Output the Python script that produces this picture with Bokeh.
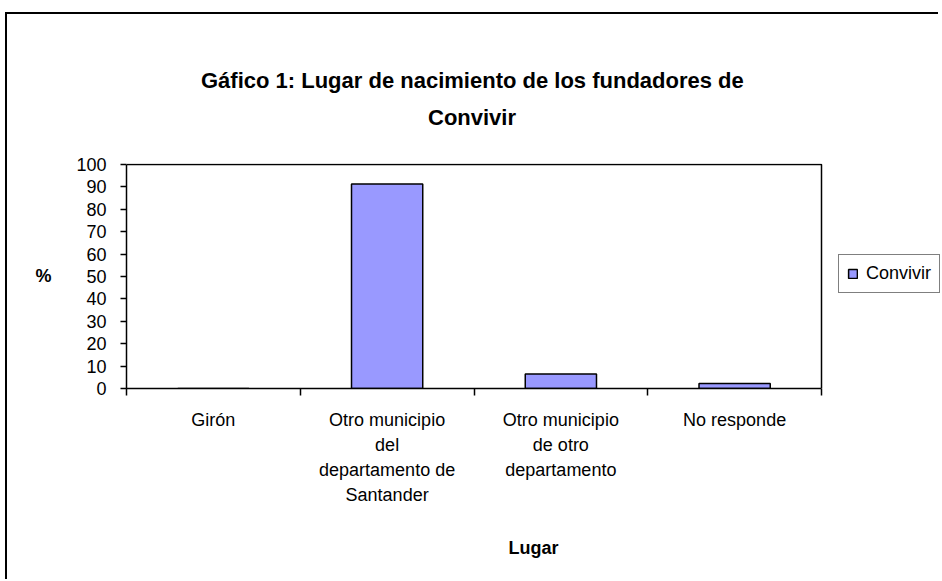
from bokeh.plotting import figure
from bokeh.models import (ColumnDataSource, Range1d, LinearAxis, FixedTicker,
                          Legend, LegendItem, Title)
from bokeh.embed import file_html
from bokeh.resources import INLINE

# ---- data ----
categories = ["Girón", "Otro municipio\ndel\ndepartamento de\nSantander",
              "Otro municipio\nde otro\ndepartamento", "No responde"]
values = [0.0, 91.3, 6.5, 2.2]
series_name = "Convivir"
y_ticks = [0, 10, 20, 30, 40, 50, 60, 70, 80, 90, 100]
title_line1 = "Gáfico 1: Lugar de nacimiento de los fundadores de"
title_line2 = "Convivir"

FONT = "Liberation Sans"
BAR = "#9999FF"

n = len(categories)
ymax = max(y_ticks)
xpos = [i + 0.5 for i in range(n)]
src = ColumnDataSource(dict(x=xpos, top=values, cat=categories))

# layout (canvas pixels)
W, H = 933, 567
FL, FB, FT = 119, 374, 149          # frame left / bottom / top
PLOT_W, PLOT_H = 695, 224           # size of the category box
x_end = n * (W - FL) / PLOT_W       # frame continues right to hold the legend
y_end = ymax * (FB - FT) / PLOT_H

p = figure(width=W, height=H, output_backend="svg", toolbar_location=None,
           title=None,
           x_range=Range1d(0, x_end), y_range=Range1d(0, y_end),
           min_border_left=FL, min_border_right=0,
           min_border_top=FT, min_border_bottom=H - FB,
           x_axis_location=None, y_axis_location=None)
p.styles = {"border-top": "2px solid black", "border-left": "2px solid black",
            "margin-top": "12px", "margin-left": "5px"}
p.grid.visible = False
p.background_fill_color = "white"
p.border_fill_color = "white"
p.outline_line_color = None

# title lines (first added is nearest the frame); a blank spacer first
p.add_layout(Title(text=" ", text_font_size="22px", standoff=2), "above")
p.add_layout(Title(text=title_line2, align="left",
                   offset=PLOT_W / 2 - 44 - 2,
                   text_font=FONT, text_font_style="bold",
                   text_font_size="22px", text_color="black",
                   standoff=10), "above")
p.add_layout(Title(text=title_line1, align="left",
                   offset=PLOT_W / 2 - 271 - 2,
                   text_font=FONT, text_font_style="bold",
                   text_font_size="22px", text_color="black",
                   standoff=9), "above")

r = p.vbar(x="x", top="top", width=0.41, bottom=0, source=src,
           fill_color=BAR, line_color="black", line_width=1.5)

# top and right edges of the plot box
p.line(x=[0, n, n], y=[ymax, ymax, 0], line_color="black", line_width=1.5)

# y axis
ya = LinearAxis(ticker=FixedTicker(ticks=y_ticks), bounds=(0, ymax))
ya.axis_label = "%"
ya.axis_label_orientation = "horizontal"
ya.axis_label_text_font = FONT
ya.axis_label_text_font_style = "bold"
ya.axis_label_text_font_size = "18px"
ya.axis_label_text_color = "black"
ya.axis_label_standoff = 22
ya.major_label_text_font = FONT
ya.major_label_text_font_size = "18px"
ya.major_label_text_color = "black"
ya.major_label_standoff = 14
ya.major_tick_out = 6
ya.major_tick_in = 0
ya.minor_tick_line_color = None
ya.axis_line_color = "black"
ya.axis_line_width = 1.5
ya.major_tick_line_width = 1.5
p.add_layout(ya, "left")

# x axis: tick marks at category boundaries
xa = LinearAxis(ticker=FixedTicker(ticks=list(range(n + 1))), bounds=(0, n))
xa.major_label_overrides = {i: "" for i in range(n + 1)}
xa.major_label_text_font_size = "1px"
xa.major_tick_out = 7
xa.major_tick_in = 0
xa.minor_tick_line_color = None
xa.axis_line_width = 1.5
xa.major_tick_line_width = 1.5
xa.major_label_standoff = 0
p.add_layout(xa, "below")

# x axis: category labels
xl = LinearAxis(ticker=FixedTicker(ticks=xpos), bounds=(0, n))
xl.major_label_overrides = {x: c for x, c in zip(xpos, categories)}
xl.axis_line_color = None
xl.major_tick_line_color = None
xl.minor_tick_line_color = None
xl.major_label_text_font = FONT
xl.major_label_text_font_size = "18px"
xl.major_label_text_color = "black"
xl.major_label_text_line_height = 1.26
xl.major_label_standoff = 8
xl.axis_label = "Lugar"
xl.axis_label_text_font = FONT
xl.axis_label_text_font_style = "bold"
xl.axis_label_text_font_size = "18px"
xl.axis_label_text_color = "black"
xl.axis_label_standoff = 30
p.add_layout(xl, "below")

# legend (inside the widened frame, right of the category box)
legend = Legend(items=[LegendItem(label=series_name, renderers=[r])],
                location=(712, 95), border_line_color="black",
                border_line_width=1, padding=8, spacing=0, margin=0,
                glyph_width=11, glyph_height=11, label_standoff=8,
                label_text_font=FONT, label_text_font_size="18px",
                label_text_color="black", background_fill_alpha=1)
p.add_layout(legend, "center")

open("out.html", "w").write(file_html(p, INLINE))
